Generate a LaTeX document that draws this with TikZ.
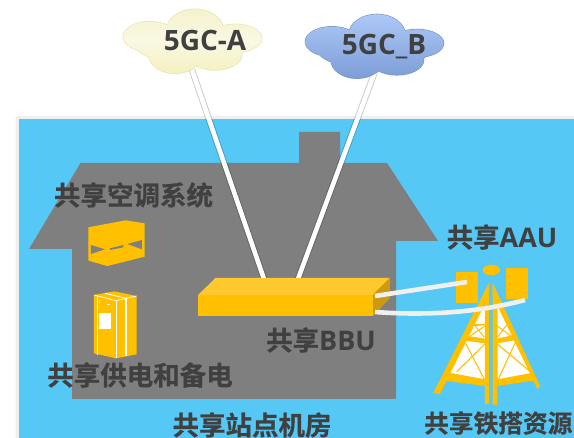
\documentclass[tikz,border=0pt]{standalone}
\usepackage{fontspec}
\newfontfamily\cjkb{Noto Sans CJK SC Bold}[FakeBold=0.6]
\newfontfamily\latb{Open Sans}[BoldFont={Open Sans Bold}]
\definecolor{skyb}{HTML}{56C8F5}
\definecolor{edgeg}{HTML}{EFEFEF}
\definecolor{houseg}{HTML}{7F7F7F}
\definecolor{gold}{HTML}{FFC000}
\definecolor{goldtop}{HTML}{FFC92E}
\definecolor{goldside}{HTML}{C99A12}
\definecolor{txt}{HTML}{404040}
\definecolor{cabl}{HTML}{F0F0F0}
\definecolor{cloudAedge}{HTML}{E9E6AE}
\definecolor{cloudAtop}{HTML}{F5F2CC}
\definecolor{cloudAmid}{HTML}{F9F8E2}
\definecolor{cloudAbot}{HTML}{F3F0BC}
\definecolor{cloudBedge}{HTML}{7A94BE}
\definecolor{cloudBtop}{HTML}{ADC9F8}
\definecolor{cloudBbot}{HTML}{7C9CD6}
\tikzset{
  lab/.style={font=\fontsize{26.5}{28}\selectfont,text=txt,inner sep=0pt},
  cloudlab/.style={font=\latb\bfseries\fontsize{28}{30}\selectfont,text=txt,inner sep=0pt},
  cablesh/.style={draw=black,opacity=.2,line width=6.5pt},
  cable/.style={draw=white,line width=4.6pt},
  zoomtwo/.style={shift={(20,170)},x=.3333pt,y=-.3333pt},
  zoomfive/.style={shift={(425,260)},x=.3333pt,y=-.3333pt},
  zoomcloud/.style={x=.3333pt,y=-.3333pt},
  wline/.style={draw=white,line width=#1},
  bar/.style={draw=gold,line width=#1},
}
\newcommand{\cloudpath}{
  (105,110) ellipse [x radius=80,y radius=45]
  (240,90) ellipse [x radius=85,y radius=62]
  (360,115) ellipse [x radius=80,y radius=42]
  (180,165) ellipse [x radius=78,y radius=55]
  (300,165) ellipse [x radius=80,y radius=45]
  (230,130) ellipse [x radius=170,y radius=62]
}
\newcommand{\zh}[1]{{\cjkb #1}}
\newcommand{\la}[1]{{\latb\bfseries\fontsize{27}{28}\selectfont #1}}
\begin{document}
\begin{tikzpicture}[x=1pt,y=-1pt]
\useasboundingbox (0,0) rectangle (574,438);
\clip (0,0) rectangle (574,438);
\fill[white] (0,0) rectangle (574,438);
% panel
\fill[edgeg,rounded corners=2pt] (15.5,116) rectangle (580,445);
\fill[skyb] (19,119) rectangle (580,445);
% house
\fill[houseg] (299,132) -- (340,132) -- (340,163) -- (387,163) -- (438,241) -- (396,241)
  -- (396,399) -- (72,399) -- (72,249) -- (29,249) -- (80.5,163) -- (299,163) -- cycle;
% cable anchors
\coordinate (aTop) at (192,70);
\coordinate (aBot) at (264,279);
\coordinate (bTop) at (377,66);
\coordinate (bBot) at (298,279);
\coordinate (bbuA) at (375,296);
\coordinate (aauL) at (467,282);
\coordinate (bbuB) at (375,312);
\coordinate (aauR) at (525,300);
% core cables
\draw[cablesh] (aTop) -- (aBot);
\draw[cablesh] (bTop) -- (bBot);
\draw[cable] (aTop) -- (aBot);
\draw[cable] (bTop) -- (bBot);
% BBU
\fill[goldtop] (198,295) -- (215.5,278) -- (390,278) -- (373,295) -- cycle;
\fill[goldside] (373,295) -- (390,278) -- (390,298) -- (373,316) -- cycle;
\fill[gold] (198,295) rectangle (373,316);
% air conditioner
\begin{scope}[zoomtwo]
\fill[gold] (205,172) -- (317,151) -- (374,160) -- (374,260) -- (262,288) -- (205,272) -- cycle;
\fill[houseg] (213,225) -- (255,238) -- (213,252) -- cycle;
\fill[houseg] (270,235) -- (310,225) -- (310,232) -- (270,240) -- cycle;
\fill[houseg] (322,222) -- (366,210) -- (366,238) -- cycle;
% cabinet
\fill[gold] (222,375) -- (283,364) -- (350,378) -- (350,553) -- (288,565) -- (222,550) -- cycle;
\draw[wline=.7pt] (222,375) -- (288,392) -- (350,378);
\draw[wline=.8pt] (255,370) -- (318,385);
\draw[wline=.8pt] (288,392) -- (288,565);
\draw[wline=1.6pt] (318,385) -- (318,558);
\draw[wline=.5pt] (232,378) -- (232,555);
\fill[white] (237,430) rectangle (272,478);
\fill[white] (237,390) rectangle (241,392);
\fill[white] (237,396) rectangle (241,398);
\fill[white] (262,403) rectangle (270,405);
\end{scope}
% tower
\begin{scope}[zoomfive]
\fill[gold] (94,36) rectangle (160,129);
\fill[gold] (244,24) rectangle (310,117);
\fill[gold] (199,30) ellipse [x radius=26,y radius=16];
\fill[white] (180,140) -- (180,362) -- (72,340) -- (160,150) -- cycle;
\fill[white] (217,140) -- (217,362) -- (325,340) -- (235,150) -- cycle;
% diagonals
\draw[bar=1.1pt] (180,252) -- (95,335);
\draw[bar=1.1pt] (122,250) -- (178,358);
\draw[bar=1.1pt] (217,252) -- (322,340);
\draw[bar=1.1pt] (272,245) -- (220,358);
\draw[bar=1pt] (180,198) -- (135,228);
\draw[bar=1pt] (148,195) -- (178,232);
\draw[bar=1pt] (217,198) -- (258,228);
\draw[bar=1pt] (245,195) -- (217,232);
% cross members
\fill[gold] (72,338) -- (180,358) -- (180,378) -- (58,362) -- cycle;
\fill[gold] (325,338) -- (217,358) -- (217,378) -- (338,360) -- cycle;
\fill[gold] (130,228) -- (180,236) -- (180,250) -- (118,242) -- cycle;
\fill[gold] (262,226) -- (217,236) -- (217,250) -- (275,240) -- cycle;
\fill[gold] (150,192) -- (180,192) -- (180,196) -- (148,198) -- cycle;
% legs and mast
\fill[gold] (192,68) -- (192,108) -- (45,402) -- (25,399) -- cycle;
\fill[gold] (203,68) -- (345,378) -- (338,388) -- (203,108) -- cycle;
\fill[gold] (180,95) -- (192,72) -- (192,432) -- (180,432) -- cycle;
\fill[gold] (203,72) -- (217,100) -- (217,435) -- (203,433) -- cycle;
\end{scope}
% radio cables
\draw[draw=cabl,line width=4.6pt] (bbuA) -- (aauL);
\draw[draw=cabl,line width=4.6pt] (bbuB) .. controls (430,316) and (480,312) .. (aauR);
% clouds
\begin{scope}[shift={(115,0)},zoomcloud]
\draw[draw=cloudAedge,line width=1.4pt] \cloudpath;
\begin{scope}
\clip \cloudpath;
\shade[top color=cloudAtop,bottom color=cloudAbot,middle color=cloudAmid] (0,20) rectangle (480,230);
\end{scope}
\end{scope}
\begin{scope}[shift={(297,5)},zoomcloud]
\draw[draw=cloudBedge,line width=1.2pt] \cloudpath;
\begin{scope}
\clip \cloudpath;
\shade[top color=cloudBtop,bottom color=cloudBbot] (0,25) rectangle (480,225);
\end{scope}
\end{scope}
% labels
\node[cloudlab] (cloudA) at (205,41) {5GC-A};
\node[cloudlab] (cloudB) at (384,47) {5GC\_B};
\node[lab] (acLab) at (133.5,195) {\zh{共享空调系统}};
\node[lab] (aauLab) at (502,237) {\zh{共享}\la{AAU}};
\node[lab] (bbuLab) at (321,340) {\zh{共享}\la{BBU}};
\node[lab] (pwrLab) at (140,375) {\zh{共享供电和备电}};
\node[lab] (siteLab) at (252,425) {\zh{共享站点机房}};
\node[lab,font=\fontsize{24.7}{26}\selectfont,anchor=west] (towerLab) at (424,423) {\zh{共享铁搭资源}};
\end{tikzpicture}
\end{document}
